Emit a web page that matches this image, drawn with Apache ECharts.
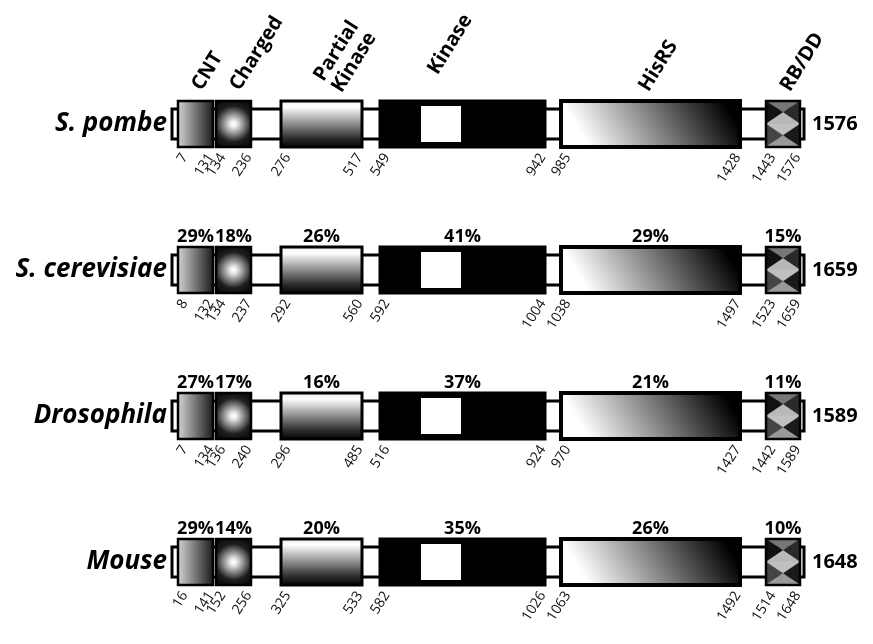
<!DOCTYPE html>
<html><head><meta charset="utf-8">
<script src="https://cdn.jsdelivr.net/npm/echarts@6/dist/echarts.min.js"></script>
<style>html,body{margin:0;padding:0;background:#fff}#c{width:873px;height:644px}</style>
</head><body><div id="c"></div>
<script>
// ---------------- data ----------------
const species = ['S. pombe', 'S. cerevisiae', 'Drosophila', 'Mouse'];
const proteinLength = [1576, 1659, 1589, 1648];
const domainNames = ['CNT', 'Charged', 'Partial\nKinase', 'Kinase', 'HisRS', 'RB/DD'];
// % identity to S. pombe, per domain
const identityCerevisiae = [29, 18, 26, 41, 29, 15];
const identityDrosophila = [27, 17, 16, 37, 21, 11];
const identityMouse = [29, 14, 20, 35, 26, 10];
// residue boundaries: start,end of each domain
const residuesPombe = [7, 131, 134, 236, 276, 517, 549, 942, 985, 1428, 1443, 1576];
const residuesCerevisiae = [8, 132, 134, 237, 292, 560, 592, 1004, 1038, 1497, 1523, 1659];
const residuesDrosophila = [7, 134, 136, 240, 296, 485, 516, 924, 970, 1427, 1442, 1589];
const residuesMouse = [16, 141, 152, 256, 325, 533, 582, 1026, 1063, 1492, 1514, 1648];
// schematic (not to scale) diagram units, shared by all species
const schematicStart = [6, 44, 109, 208, 389, 594];
const schematicEnd = [41, 79, 190, 373, 568, 628];
const schematicProtein = [0, 632];
const kinaseWindow = [249, 289];

const identity = [null, identityCerevisiae, identityDrosophila, identityMouse];
const residues = [residuesPombe, residuesCerevisiae, residuesDrosophila, residuesMouse];

// ---------------- layout / style ----------------
const BOX_H = 46, TUBE_H = 30;
const FONT = '"Open Sans", "Noto Sans", sans-serif';
const headerDx = [10, 10, 24, -21, 2, 11];
const headerDy = [-7, -7, -5, -23, -6, -6];
const NUM_ROT = 57 * Math.PI / 180;
const HEAD_ROT = 58 * Math.PI / 180;

const fills = [
  {type: 'linear', x: 0, y: 0, x2: 1, y2: 0, colorStops: [{offset: 0, color: '#d8d8d8'}, {offset: 1, color: '#151515'}]},
  {type: 'radial', x: 0.5, y: 0.5, r: 0.8, colorStops: [{offset: 0, color: '#ffffff'}, {offset: 0.1, color: '#eeeeee'}, {offset: 0.6, color: '#1e1e1e'}, {offset: 1, color: '#000'}]},
  {type: 'linear', x: 0, y: 0, x2: 0, y2: 1, colorStops: [{offset: 0, color: '#e8e8e8'}, {offset: 0.15, color: '#ffffff'}, {offset: 0.8, color: '#2a2a2a'}, {offset: 1, color: '#000'}]},
  '#000',
  {type: 'linear', x: 0, y: 1.6, x2: 1, y2: -0.6, colorStops: [{offset: 0, color: '#fff'}, {offset: 0.2, color: '#fff'}, {offset: 0.85, color: '#000'}, {offset: 1, color: '#000'}]},
  '#000'
];
const borders = [2.5, 2.5, 3, 3, 4, 2.5];

const domainData = [];
species.forEach((s, r) => {
  schematicStart.forEach((st, d) => domainData.push([st, schematicEnd[d], r, d]));
});
const proteinData = species.map((s, r) => [schematicProtein[0], schematicProtein[1], r]);

function renderProtein(params, api) {
  const r = api.value(2);
  const p0 = api.coord([api.value(0), r]);
  const p1 = api.coord([api.value(1), r]);
  return {
    type: 'rect',
    shape: {x: p0[0], y: p0[1] - TUBE_H / 2, width: p1[0] - p0[0], height: TUBE_H},
    style: {fill: '#fff', stroke: '#000', lineWidth: 3}
  };
}

function tri(points, color) {
  return {type: 'polygon', shape: {points}, style: {fill: color, stroke: color, lineWidth: 0.5}};
}

function renderDomain(params, api) {
  const r = api.value(2), d = api.value(3);
  const p0 = api.coord([api.value(0), r]);
  const p1 = api.coord([api.value(1), r]);
  const x0 = p0[0], x1 = p1[0], cy = p0[1];
  const top = cy - BOX_H / 2, bot = cy + BOX_H / 2, w = x1 - x0;
  const xc = (x0 + x1) / 2;
  const ch = [];
  if (d === 5) {
    const m1 = top + BOX_H / 4, m2 = cy + BOX_H / 4;
    ch.push(tri([[x0, top], [x1, top], [xc, m1]], '#777'));
    ch.push(tri([[x0, top], [xc, m1], [x0, cy]], '#111'));
    ch.push(tri([[x1, top], [xc, m1], [x1, cy]], '#2a2a2a'));
    ch.push(tri([[x0, cy], [xc, m1], [x1, cy]], '#b8b8b8'));
    ch.push(tri([[x0, cy], [x1, cy], [xc, m2]], '#c0c0c0'));
    ch.push(tri([[x0, cy], [xc, m2], [x0, bot]], '#444'));
    ch.push(tri([[x1, cy], [xc, m2], [x1, bot]], '#1a1a1a'));
    ch.push(tri([[x0, bot], [xc, m2], [x1, bot]], '#999'));
    ch.push({type: 'rect', shape: {x: x0, y: top, width: w, height: BOX_H}, style: {fill: null, stroke: '#000', lineWidth: borders[d]}});
  } else {
    ch.push({type: 'rect', shape: {x: x0, y: top, width: w, height: BOX_H}, style: {fill: fills[d], stroke: '#000', lineWidth: borders[d]}});
  }
  if (d === 3) {
    const k0 = api.coord([kinaseWindow[0], r])[0], k1 = api.coord([kinaseWindow[1], r])[0];
    ch.push({type: 'rect', shape: {x: k0, y: top + 5, width: k1 - k0, height: BOX_H - 10}, style: {fill: '#fff'}});
  }
  const rs = residues[r][2 * d], re = residues[r][2 * d + 1];
  [[x0 + 1, rs], [x1 - 8, re]].forEach(([x, v]) => {
    ch.push({type: 'text', x: x, y: bot + 4, rotation: NUM_ROT,
      style: {text: String(v), fill: '#111', font: '14px ' + FONT, align: 'right', verticalAlign: 'top'}});
  });
  if (identity[r]) {
    ch.push({type: 'text', x: xc, y: top - 1,
      style: {text: identity[r][d] + '%', fill: '#000', font: 'bold 18px ' + FONT, align: 'center', verticalAlign: 'bottom'}});
  }
  if (r === 0) {
    ch.push({type: 'text', x: xc + headerDx[d], y: top + headerDy[d], rotation: HEAD_ROT,
      style: {text: domainNames[d], fill: '#000', font: 'bold 20px ' + FONT, lineHeight: 21, align: 'left', verticalAlign: 'bottom'}});
  }
  return {type: 'group', children: ch};
}

const chart = echarts.init(document.getElementById('c'), null, {renderer: 'canvas'});
chart.setOption({
  animation: false,
  backgroundColor: '#fff',
  grid: {left: 172, right: 69, top: 51, bottom: 9},
  xAxis: {type: 'value', min: schematicProtein[0], max: schematicProtein[1], show: false},
  yAxis: [
    {type: 'category', data: species, inverse: true, axisLine: {show: false}, axisTick: {show: false}, splitLine: {show: false},
      axisLabel: {margin: 5, fontFamily: FONT, fontWeight: 'bold', fontStyle: 'italic', fontSize: 26, color: '#000'}},
    {type: 'category', data: proteinLength.map(String), inverse: true, position: 'right', axisLine: {show: false}, axisTick: {show: false}, splitLine: {show: false},
      axisLabel: {margin: 8, fontFamily: FONT, fontWeight: 'bold', fontSize: 20, color: '#000'}}
  ],
  series: [
    {type: 'custom', renderItem: renderProtein, data: proteinData, encode: {x: [0, 1], y: 2}, clip: false, z: 1},
    {type: 'custom', renderItem: renderDomain, data: domainData, encode: {x: [0, 1], y: 2}, clip: false, z: 2}
  ]
});
</script></body></html>
